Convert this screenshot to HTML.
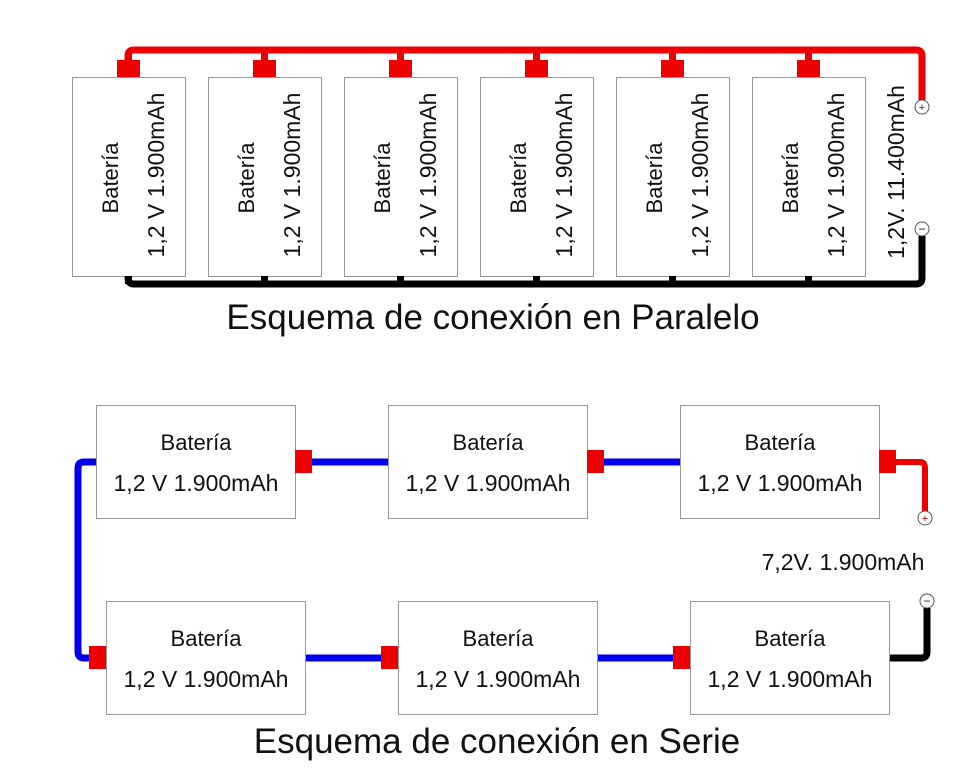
<!DOCTYPE html>
<html><head><meta charset="utf-8"><style>
body{margin:0;background:#fff;}
text{font-family:"Liberation Sans",Arial,sans-serif;fill:#111;}
</style></head><body>
<svg width="974" height="768" viewBox="0 0 974 768" xmlns="http://www.w3.org/2000/svg">
<!-- PARALLEL -->
<path d="M128 62 V56 Q128 50 134 50 H916 Q922 50 922 56 V100" fill="none" stroke="#e00" stroke-width="7"/>
<path d="M128 276 V278 Q128 284 134 284 H916 Q922 284 922 278 V236" fill="none" stroke="#000" stroke-width="7"/>
<g id="pb">
<rect x="72.5" y="77.5" width="113" height="199" fill="#fff" stroke="#999" stroke-width="1"/>
<rect x="117" y="60" width="23" height="17" fill="#e00"/>
<rect x="125" y="52" width="7" height="10" fill="#e00"/>
<rect x="125" y="276" width="7" height="8" fill="#000"/>
<text transform="translate(118,178) rotate(-90)" text-anchor="middle" font-size="22">Batería</text>
<text transform="translate(164,175) rotate(-90)" text-anchor="middle" font-size="23">1,2 V 1.900mAh</text>
</g>
<use href="#pb" x="136"/><use href="#pb" x="272"/><use href="#pb" x="408"/><use href="#pb" x="544"/><use href="#pb" x="680"/>
<circle cx="922" cy="107" r="7" fill="#fff" stroke="#555"/>
<text x="922" y="111" text-anchor="middle" font-size="11" style="fill:#900">+</text>
<circle cx="922" cy="229" r="7" fill="#fff" stroke="#555"/>
<text x="922" y="233" text-anchor="middle" font-size="12">−</text>
<text transform="translate(904,172) rotate(-90)" text-anchor="middle" font-size="23">1,2V. 11.400mAh</text>
<text x="493" y="329" text-anchor="middle" font-size="35">Esquema de conexión en Paralelo</text>

<!-- SERIES -->
<path d="M96 462 H84 Q78 462 78 468 V652 Q78 658 84 658 H92" fill="none" stroke="#00e" stroke-width="7"/>
<line x1="312" y1="462" x2="388" y2="462" stroke="#00e" stroke-width="7"/>
<line x1="604" y1="462" x2="680" y2="462" stroke="#00e" stroke-width="7"/>
<line x1="305" y1="658" x2="381" y2="658" stroke="#00e" stroke-width="7"/>
<line x1="597" y1="658" x2="673" y2="658" stroke="#00e" stroke-width="7"/>
<path d="M896 462 H920 Q925 462 925 468 V511" fill="none" stroke="#e00" stroke-width="6"/>
<path d="M889 658 H921 Q927 658 927 652 V608" fill="none" stroke="#000" stroke-width="7"/>
<g id="sb">
<rect x="96.5" y="405.5" width="199" height="113" fill="#fff" stroke="#999"/>
<text x="196" y="450" text-anchor="middle" font-size="22">Batería</text>
<text x="196" y="491" text-anchor="middle" font-size="23">1,2 V 1.900mAh</text>
</g>
<use href="#sb" x="292"/><use href="#sb" x="584"/>
<use href="#sb" x="10" y="196"/><use href="#sb" x="302" y="196"/><use href="#sb" x="594" y="196"/>
<rect x="295" y="450" width="17" height="23" fill="#e00"/>
<rect x="587" y="450" width="17" height="23" fill="#e00"/>
<rect x="879" y="450" width="17" height="23" fill="#e00"/>
<rect x="89" y="646" width="17" height="23" fill="#e00"/>
<rect x="381" y="646" width="17" height="23" fill="#e00"/>
<rect x="673" y="646" width="17" height="23" fill="#e00"/>
<circle cx="925" cy="518" r="7" fill="#fff" stroke="#555"/>
<text x="925" y="522" text-anchor="middle" font-size="11" style="fill:#900">+</text>
<circle cx="927" cy="601" r="7" fill="#fff" stroke="#555"/>
<text x="927" y="605" text-anchor="middle" font-size="12">−</text>
<text x="843" y="570" text-anchor="middle" font-size="23">7,2V. 1.900mAh</text>
<text x="497" y="753" text-anchor="middle" font-size="35">Esquema de conexión en Serie</text>
</svg>
</body></html>
